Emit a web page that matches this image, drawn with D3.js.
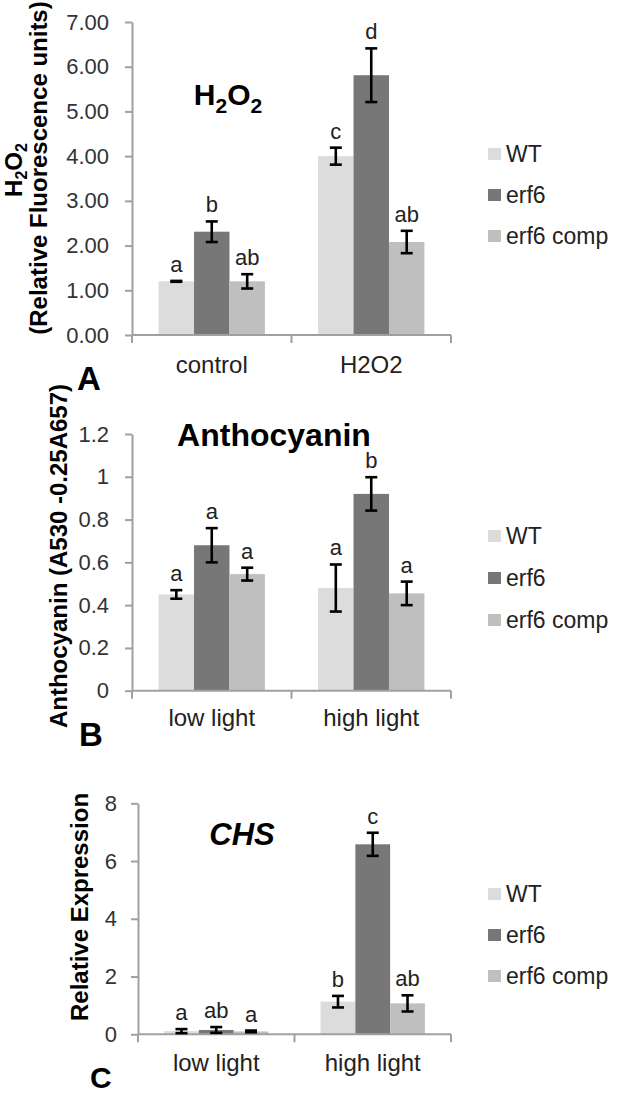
<!DOCTYPE html>
<html><head><meta charset="utf-8">
<script src="https://cdn.jsdelivr.net/npm/d3@7"></script>
<style>html,body{margin:0;padding:0;background:#fff}svg{display:block}text{font-family:"Liberation Sans",Arial,Helvetica,sans-serif}</style>
</head><body><svg id="chart" width="618" height="1095"></svg>
<script>
// ---------- data ----------
const seriesNames = ["WT", "erf6", "erf6 comp"];
const seriesColors = ["#dcdcdc", "#777777", "#bfbfbf"];

const catsA = ["control", "H2O2"];
const meansA = [[1.20, 2.31, 1.20], [4.00, 5.81, 2.08]];
const errsA = [[0.01, 0.23, 0.16], [0.19, 0.60, 0.25]];
const lettersA = [["a", "b", "ab"], ["c", "d", "ab"]];
const ticksA = [0, 1, 2, 3, 4, 5, 6, 7];
const tickLabelsA = ["0.00", "1.00", "2.00", "3.00", "4.00", "5.00", "6.00", "7.00"];

const catsB = ["low light", "high light"];
const meansB = [[0.45, 0.68, 0.545], [0.48, 0.92, 0.455]];
const errsB = [[0.02, 0.08, 0.03], [0.11, 0.078, 0.055]];
const lettersB = [["a", "a", "a"], ["a", "b", "a"]];
const ticksB = [0, 0.2, 0.4, 0.6, 0.8, 1, 1.2];
const tickLabelsB = ["0", "0.2", "0.4", "0.6", "0.8", "1", "1.2"];

const catsC = ["low light", "high light"];
const meansC = [[0.11, 0.15, 0.10], [1.13, 6.58, 1.07]];
const errsC = [[0.07, 0.10, 0.03], [0.20, 0.40, 0.28]];
const lettersC = [["a", "ab", "a"], ["b", "c", "ab"]];
const ticksC = [0, 2, 4, 6, 8];
const tickLabelsC = ["0", "2", "4", "6", "8"];

// ---------- drawing ----------
const svg = d3.select("#chart");
svg.append("rect").attr("width", 618).attr("height", 1095).attr("fill", "#fff");

const AXIS = "#a0a0a0";

function drawPanel(p) {
  const g = svg.append("g");
  const y = d3.scaleLinear().domain([0, p.max]).range([p.yBot, p.yTop]);
  const x0 = d3.scaleBand().domain(p.cats).range([p.xL, p.xR]).paddingInner(0).paddingOuter(0);
  const x1 = d3.scaleBand().domain(seriesNames).range([0, x0.bandwidth()]).paddingInner(0).paddingOuter(0.75);
  const color = d3.scaleOrdinal().domain(seriesNames).range(seriesColors);

  const rows = p.cats.flatMap((c, i) => seriesNames.map((s, j) => ({
    c, s, v: p.means[i][j], e: p.errs[i][j], l: p.letters[i][j]
  })));

  // bars
  g.selectAll("rect.bar").data(rows).join("rect")
    .attr("class", "bar")
    .attr("x", d => x0(d.c) + x1(d.s))
    .attr("y", d => y(d.v))
    .attr("width", x1.bandwidth())
    .attr("height", d => y(0) - y(d.v))
    .attr("fill", d => color(d.s));

  // y axis
  const ya = g.append("g").attr("transform", `translate(${p.xL},0)`)
    .call(d3.axisLeft(y).tickValues(p.ticks).tickFormat((d, i) => p.tickLabels[i])
      .tickSize(7).tickSizeOuter(0).tickPadding(p.tickPad));
  ya.select(".domain").attr("stroke", AXIS).attr("stroke-width", 2);
  ya.selectAll(".tick line").attr("stroke", AXIS).attr("stroke-width", 2);
  ya.selectAll(".tick text").attr("font-size", 22).attr("fill", "#333")
    .attr("font-family", '"Liberation Sans",Arial,sans-serif');

  // x axis line + boundary ticks
  const y0 = y(0);
  g.append("line").attr("x1", p.xL).attr("x2", p.xR).attr("y1", y0).attr("y2", y0)
    .attr("stroke", AXIS).attr("stroke-width", 2);
  const bounds = p.cats.map(c => x0(c)).concat([x0.range()[1]]);
  g.selectAll("line.bt").data(bounds).join("line").attr("class", "bt")
    .attr("x1", d => d).attr("x2", d => d).attr("y1", y0).attr("y2", y0 + 8)
    .attr("stroke", AXIS).attr("stroke-width", 2);

  // category labels
  const xa = g.append("g").attr("transform", `translate(0,${y0})`)
    .call(d3.axisBottom(x0).tickSize(0).tickSizeOuter(0));
  xa.select(".domain").remove();
  xa.selectAll(".tick text").attr("font-size", 24).attr("fill", "#222")
    .attr("dy", null).attr("y", p.catLabelDy)
    .attr("font-family", '"Liberation Sans",Arial,sans-serif');

  // error bars
  const cx = d => x0(d.c) + x1(d.s) + x1.bandwidth() / 2;
  const eg = g.append("g").attr("stroke", "#000").attr("stroke-width", 2.6);
  eg.selectAll("line.ev").data(rows).join("line").attr("class", "ev")
    .attr("x1", cx).attr("x2", cx).attr("y1", d => y(d.v + d.e)).attr("y2", d => y(d.v - d.e));
  eg.selectAll("line.et").data(rows).join("line").attr("class", "et")
    .attr("x1", d => cx(d) - 6).attr("x2", d => cx(d) + 6).attr("y1", d => y(d.v + d.e)).attr("y2", d => y(d.v + d.e));
  eg.selectAll("line.eb").data(rows).join("line").attr("class", "eb")
    .attr("x1", d => cx(d) - 6).attr("x2", d => cx(d) + 6).attr("y1", d => y(d.v - d.e)).attr("y2", d => y(d.v - d.e));

  // significance letters
  g.selectAll("text.sig").data(rows).join("text").attr("class", "sig")
    .attr("x", cx).attr("y", d => y(d.v + d.e) - 9)
    .attr("text-anchor", "middle").attr("font-size", 22).attr("fill", "#222")
    .text(d => d.l);

  // legend
  const lg = g.append("g");
  seriesNames.forEach((s, j) => {
    lg.append("rect").attr("x", 488).attr("y", p.legendY[j] - 6).attr("width", 13).attr("height", 12)
      .attr("fill", color(s));
    lg.append("text").attr("x", 506).attr("y", p.legendY[j] + 8).attr("font-size", 23)
      .attr("fill", "#222").text(s);
  });
  return g;
}

drawPanel({cats: catsA, means: meansA, errs: errsA, letters: lettersA, ticks: ticksA, tickLabels: tickLabelsA,
  max: 7, xL: 132, xR: 451, yTop: 22, yBot: 335, tickPad: 16, catLabelDy: 38, legendY: [154, 195, 236]});
drawPanel({cats: catsB, means: meansB, errs: errsB, letters: lettersB, ticks: ticksB, tickLabels: tickLabelsB,
  max: 1.2, xL: 132, xR: 451, yTop: 434, yBot: 690.7, tickPad: 16, catLabelDy: 35, legendY: [536, 578, 620]});
drawPanel({cats: catsC, means: meansC, errs: errsC, letters: lettersC, ticks: ticksC, tickLabels: tickLabelsC,
  max: 8, xL: 138, xR: 451, yTop: 803.3, yBot: 1034.3, tickPad: 14, catLabelDy: 37, legendY: [894, 935, 976]});

// ---------- titles ----------
function h2o2(sel, big, small, shift) {
  sel.append("tspan").attr("font-size", big).text("H");
  sel.append("tspan").attr("font-size", small).attr("dy", shift).text("2");
  sel.append("tspan").attr("font-size", big).attr("dy", -shift).text("O");
  sel.append("tspan").attr("font-size", small).attr("dy", shift).text("2");
}
const tA = svg.append("text").attr("x", 228).attr("y", 105).attr("text-anchor", "middle")
  .attr("font-weight", "bold").attr("fill", "#000");
h2o2(tA, 30, 21, 8);

svg.append("text").attr("x", 274).attr("y", 446).attr("text-anchor", "middle")
  .attr("font-weight", "bold").attr("font-size", 32).attr("fill", "#000").text("Anthocyanin");

svg.append("text").attr("x", 242).attr("y", 845).attr("text-anchor", "middle")
  .attr("font-weight", "bold").attr("font-style", "italic").attr("font-size", 31).attr("fill", "#000").text("CHS");

// ---------- y axis titles ----------
const yl1 = svg.append("text").attr("transform", "translate(22,170) rotate(-90)")
  .attr("text-anchor", "middle").attr("font-weight", "bold").attr("fill", "#000");
h2o2(yl1, 24, 16, 5);
svg.append("text").attr("transform", "translate(47,168) rotate(-90)")
  .attr("text-anchor", "middle").attr("font-weight", "bold").attr("font-size", 24).attr("fill", "#000")
  .text("(Relative Fluorescence units)");
svg.append("text").attr("transform", "translate(67,556) rotate(-90)")
  .attr("text-anchor", "middle").attr("font-weight", "bold").attr("font-size", 24).attr("fill", "#000")
  .text("Anthocyanin (A530 -0.25A657)");
svg.append("text").attr("transform", "translate(88,907) rotate(-90)")
  .attr("text-anchor", "middle").attr("font-weight", "bold").attr("font-size", 24).attr("fill", "#000")
  .text("Relative Expression");

// ---------- panel letters ----------
[["A", 77, 390, 33], ["B", 79, 746, 33], ["C", 90, 1088, 30]].forEach(([t, x, yy, fs]) => {
  svg.append("text").attr("x", x).attr("y", yy).attr("font-weight", "bold").attr("font-size", fs)
    .attr("fill", "#000").text(t);
});
</script></body></html>
